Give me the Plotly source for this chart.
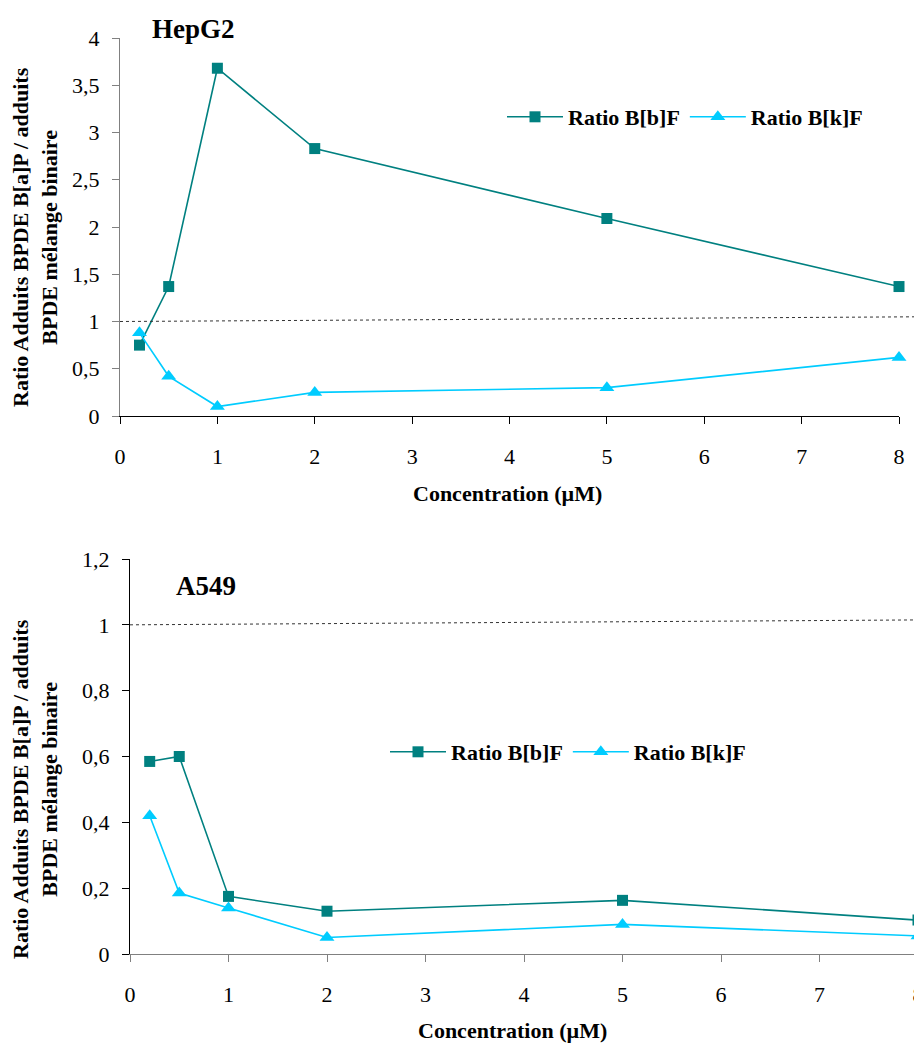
import plotly.graph_objects as go

# ---- data ----
conc = [0.2, 0.5, 1, 2, 5, 8]
hepg2_bbf = [0.75, 1.37, 3.68, 2.83, 2.09, 1.37]
hepg2_bkf = [0.88, 0.42, 0.10, 0.25, 0.30, 0.62]
a549_bbf = [0.585, 0.60, 0.175, 0.13, 0.163, 0.103]
a549_bkf = [0.42, 0.185, 0.14, 0.05, 0.09, 0.055]
series_names = ["Ratio B[b]F", "Ratio B[k]F"]
panel_titles = ["HepG2", "A549"]
x_title = "Concentration (µM)"
y_title = "Ratio Adduits BPDE B[a]P / adduits<br>BPDE mélange binaire"
ref_level = 1

# the page body has an 8px default margin: the figure starts at (8, 8) in the window
OFF = 8
W, H = 922 - OFF, 1043 - OFF
TEAL = "#008080"
CYAN = "#00CCFF"
FONT = "Liberation Serif"
FS = 22

def px(x):
    return (x - OFF) / W

def py(y):
    return 1 - (y - OFF) / H

fig = go.Figure()

# top panel
fig.add_trace(go.Scatter(x=conc, y=hepg2_bbf, name="<b>%s</b>" % series_names[0], mode="lines+markers",
                         line=dict(color=TEAL, width=1.6),
                         marker=dict(symbol="square", size=11, color=TEAL),
                         xaxis="x", yaxis="y", legend="legend", cliponaxis=False))
fig.add_trace(go.Scatter(x=conc, y=hepg2_bkf, name="<b>%s</b>" % series_names[1], mode="lines+markers",
                         line=dict(color=CYAN, width=1.6),
                         marker=dict(symbol="triangle-up", size=13, color=CYAN),
                         xaxis="x", yaxis="y", legend="legend", cliponaxis=False))
# bottom panel
fig.add_trace(go.Scatter(x=conc, y=a549_bbf, name="<b>%s</b>" % series_names[0], mode="lines+markers",
                         line=dict(color=TEAL, width=1.6),
                         marker=dict(symbol="square", size=11, color=TEAL),
                         xaxis="x2", yaxis="y2", legend="legend2", cliponaxis=False))
fig.add_trace(go.Scatter(x=conc, y=a549_bkf, name="<b>%s</b>" % series_names[1], mode="lines+markers",
                         line=dict(color=CYAN, width=1.6),
                         marker=dict(symbol="triangle-up", size=13, color=CYAN),
                         xaxis="x2", yaxis="y2", legend="legend2", cliponaxis=False))

tickfont = dict(family=FONT, size=FS, color="black")

def xaxis(domain, anchor, linecolor):
    return dict(domain=domain, anchor=anchor, range=[0, 8], dtick=1, tick0=0,
                showgrid=False, zeroline=False, showline=True, linecolor=linecolor, linewidth=1.3,
                ticks="outside", ticklen=7, tickcolor=linecolor, tickwidth=1.2,
                tickfont=tickfont, ticklabelstandoff=13, automargin=False,
                ticklabeloverflow="allow")

def yaxis(domain, anchor, rng, dtick, linecolor):
    return dict(domain=domain, anchor=anchor, range=rng, dtick=dtick, tick0=0,
                showgrid=False, zeroline=False, showline=True, linecolor=linecolor, linewidth=1.3,
                ticks="outside", ticklen=7, tickcolor=linecolor, tickwidth=1.2,
                tickfont=tickfont, ticklabelstandoff=8, automargin=False)

legend_font = dict(family=FONT, size=FS, color="black")

fig.update_layout(
    width=W, height=H,
    margin=dict(l=0, r=0, t=0, b=0, autoexpand=False),
    font=dict(family=FONT, size=FS, color="black"),
    paper_bgcolor="white", plot_bgcolor="white",
    separators=", ",
    xaxis=xaxis([px(120), px(899)], "y", "black"),
    yaxis=yaxis([py(416), py(38)], "x", [0, 4], 0.5, "#808080"),
    xaxis2=xaxis([px(130), px(918)], "y2", "#808080"),
    yaxis2=yaxis([py(954), py(559)], "x2", [0, 1.2], 0.2, "black"),
    legend=dict(orientation="h", x=px(502), y=py(117), xanchor="left", yanchor="middle",
                font=legend_font, bgcolor="rgba(0,0,0,0)", itemwidth=56),
    legend2=dict(orientation="h", x=px(385), y=py(752), xanchor="left", yanchor="middle",
                 font=legend_font, bgcolor="rgba(0,0,0,0)", itemwidth=56),
)

# reference dashed lines at ratio = 1
fig.add_shape(type="line", xref="paper", yref="y", x0=px(120), x1=1.0, y0=ref_level, y1=ref_level * 1.05,
              line=dict(color="#333333", width=1, dash="3px,3px"))
fig.add_shape(type="line", xref="paper", yref="y2", x0=px(130), x1=1.0, y0=ref_level, y1=ref_level * 1.015,
              line=dict(color="#333333", width=1, dash="3px,3px"))

bold = dict(family=FONT, size=FS, color="black")
ytitle_html = "<b>%s</b>" % y_title.replace("<br>", "</b><br><b>")
ann = [
    dict(text="<b>%s</b>" % panel_titles[0], x=px(150), y=py(29), xanchor="left", yanchor="middle",
         font=dict(family=FONT, size=27, color="black")),
    dict(text="<b>%s</b>" % panel_titles[1], x=px(174), y=py(586), xanchor="left", yanchor="middle",
         font=dict(family=FONT, size=27, color="black")),
    dict(text="<b>%s</b>" % x_title, x=px(507), y=py(493), xanchor="center", yanchor="middle", font=bold),
    dict(text="<b>%s</b>" % x_title, x=px(512), y=py(1030), xanchor="center", yanchor="middle", font=bold),
    dict(text=ytitle_html, x=px(35), y=py(237), textangle=-90,
         xanchor="center", yanchor="middle", font=bold),
    dict(text=ytitle_html, x=px(35), y=py(789), textangle=-90,
         xanchor="center", yanchor="middle", font=bold),
]
for a in ann:
    a.update(xref="paper", yref="paper", showarrow=False)
    fig.add_annotation(**a)

fig.write_html("out.html")
